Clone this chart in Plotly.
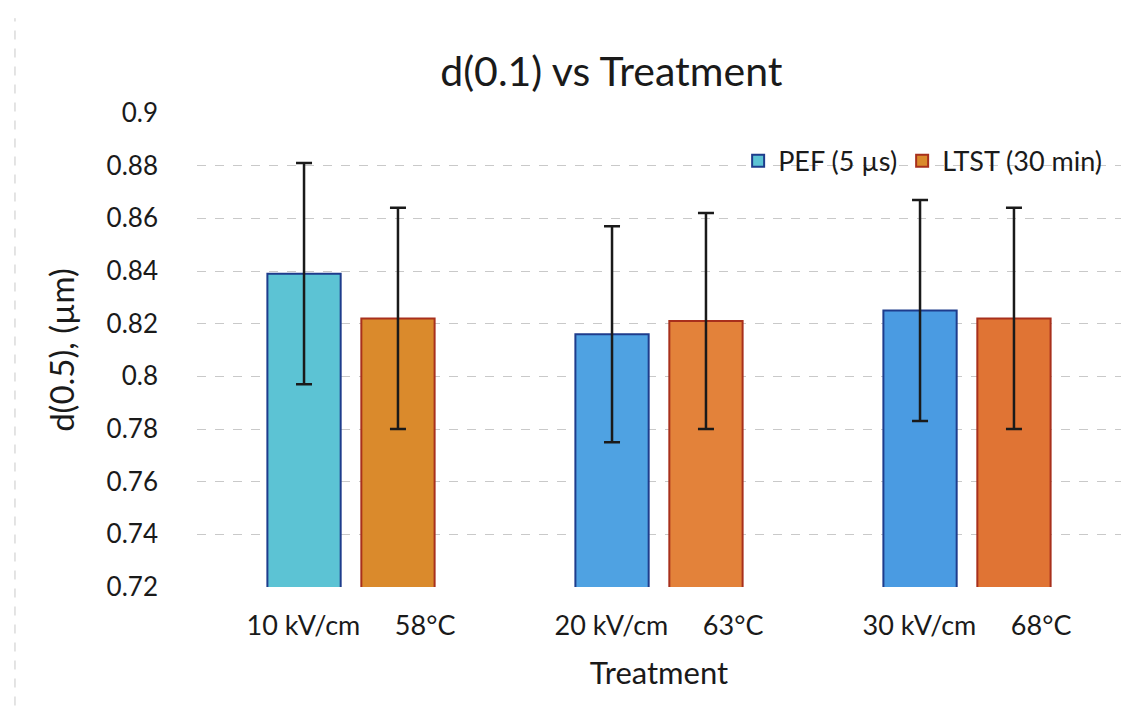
import plotly.graph_objects as go

pef_labels = ["10 kV/cm", "20 kV/cm", "30 kV/cm"]
ltst_labels = ["58°C", "63°C", "68°C"]
pef_values = [0.839, 0.816, 0.825]
pef_errors = [0.042, 0.041, 0.042]
ltst_values = [0.822, 0.821, 0.822]
ltst_errors = [0.042, 0.041, 0.042]

pef_colors = ["#5CC3D4", "#4FA2E2", "#4A9BE2"]
ltst_colors = ["#DA8A2C", "#E3823A", "#E07434"]

FONT = "Lato"
SEP = "\u00a0" * 5
categories = [f"{a}{SEP}{b}" for a, b in zip(pef_labels, ltst_labels)]

fig = go.Figure()
fig.add_trace(go.Bar(
    x=categories, y=pef_values, name="PEF (5 µs)",
    marker=dict(color=pef_colors, line=dict(color="#1E3C8C", width=2)),
    error_y=dict(type="data", array=pef_errors, color="#1a1a1a", thickness=2.5, width=8),
))
fig.add_trace(go.Bar(
    x=categories, y=ltst_values, name="LTST (30 min)",
    marker=dict(color=ltst_colors, line=dict(color="#A8301C", width=2)),
    error_y=dict(type="data", array=ltst_errors, color="#1a1a1a", thickness=2.5, width=8),
))

fig.add_shape(type="line", xref="paper", yref="paper", x0=-0.197, x1=-0.197, y0=-0.25, y1=1.2,
              line=dict(color="#c8c8c8", width=1, dash="dash"))

fig.update_layout(
    width=1132, height=708,
    barmode="group", bargap=0.39, bargroupgap=0.22,
    paper_bgcolor="white", plot_bgcolor="white",
    font=dict(family=FONT, color="#222222"),
    margin=dict(l=189, r=19, t=105, b=129, autoexpand=False),
    title=dict(text="d(0.1) vs Treatment", x=0.533, xanchor="center", y=0.91, yanchor="middle",
               font=dict(size=41, family=FONT, color="#1a1a1a")),
    legend=dict(orientation="h", x=0.985, xanchor="right", y=0.8985, yanchor="middle",
                font=dict(size=27, family=FONT, color="#1a1a1a"), bgcolor="rgba(0,0,0,0)",
                itemwidth=30, tracegroupgap=0),
    xaxis=dict(type="category", tickfont=dict(size=27, family=FONT, color="#1a1a1a"), ticks="",
               ticklabelstandoff=20, showgrid=False, zeroline=False, showline=False,
               title=dict(text="Treatment", font=dict(size=31, family=FONT, color="#1a1a1a"), standoff=22)),
    yaxis=dict(range=[0.72, 0.9], dtick=0.02, tickformat="~g",
               tickfont=dict(size=26, family=FONT, color="#1a1a1a"), ticks="",
               ticklabelstandoff=38, showgrid=True, gridcolor="#c9c9c9", griddash="dash", gridwidth=1,
               zeroline=False, showline=False,
               title=dict(text="d(0.5), (µm)", font=dict(size=33, family=FONT, color="#1a1a1a"), standoff=22)),
)

fig.write_html("out.html")
